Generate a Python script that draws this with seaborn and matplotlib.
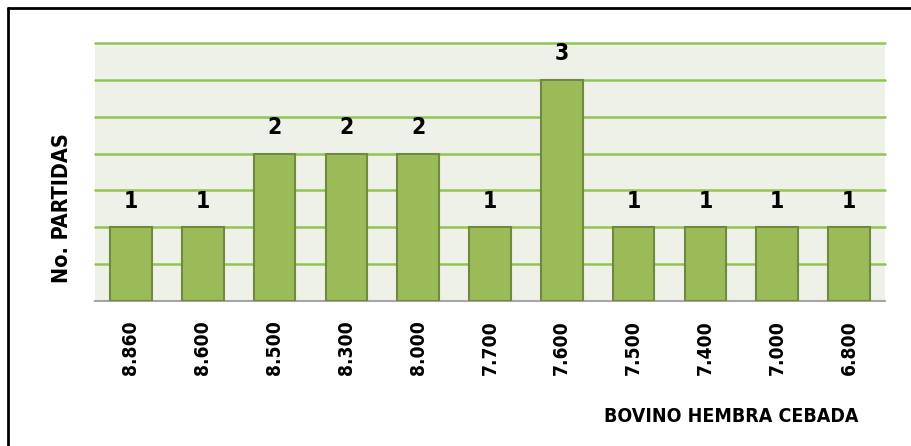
import matplotlib
matplotlib.use("Agg")
import matplotlib.pyplot as plt
import seaborn as sns
import pandas as pd
from matplotlib.lines import Line2D

categories = ["8.860", "8.600", "8.500", "8.300", "8.000", "7.700", "7.600",
              "7.500", "7.400", "7.000", "6.800"]
values = [1, 1, 2, 2, 2, 1, 3, 1, 1, 1, 1]
y_label = "No. PARTIDAS"
x_label = "BOVINO HEMBRA CEBADA"

sns.set_theme(style="white")
FONT = ["DejaVu Sans", "Liberation Sans"]
plt.rcParams['font.family'] = FONT
plt.rcParams['font.stretch'] = "condensed"
plt.rcParams['text.color'] = "black"

df = pd.DataFrame({"cat": categories, "val": values})

fig = plt.figure(figsize=(9.12, 4.46), dpi=100)
ax = fig.add_axes([95/912, 1-301/446, (885-95)/912, (301-43)/446])
ax.set_facecolor("#EEF1E8")

sns.barplot(data=df, x="cat", y="val", ax=ax, color="#9BBB59",
            edgecolor="#6F8A3C", linewidth=1.5, width=0.58, saturation=1, zorder=3)

ax.set_ylim(0, 3.5)
ax.set_yticks([0.5*i for i in range(1, 8)])
ax.yaxis.grid(True, color="#92C353", linewidth=1.8, zorder=0)
for gl in ax.get_ygridlines():
    gl.set_clip_on(False)
ax.set_axisbelow(True)
ax.tick_params(axis="y", left=False, labelleft=False)
ax.tick_params(axis="x", bottom=False, length=0, pad=14)
for lab in ax.get_xticklabels():
    lab.set_rotation(90)
    lab.set_fontsize(13.8)
    lab.set_fontweight("bold")
    lab.set_fontstretch("condensed")
    lab.set_color("black")
    lab.set_va("top")

for s in ["top", "right", "left"]:
    ax.spines[s].set_visible(False)
ax.spines["bottom"].set_color("#A6A6A6")
ax.spines["bottom"].set_linewidth(1.5)

for i, v in enumerate(values):
    ax.text(i, v + 0.2, str(v), ha="center", va="bottom", fontsize=16.5,
            fontweight="bold", fontstretch="condensed", color="black")

ax.set_xlabel("")
ax.set_ylabel("")
fig.text(62/912, 1-208/446, y_label, rotation=90, ha="center", va="center",
         fontsize=15.5, fontweight="bold", fontstretch="condensed", color="black")
fig.text(731/912, 1-416/446, x_label, ha="center", va="center",
         fontsize=14, fontweight="bold", fontstretch="condensed", color="black")

# figure frame (top and left visible)
fig.add_artist(Line2D([8/912, 8/912], [0, 1-8/446], transform=fig.transFigure,
                      color="black", linewidth=2))
fig.add_artist(Line2D([8/912, 1], [1-8/446, 1-8/446], transform=fig.transFigure,
                      color="black", linewidth=2))

fig.savefig("out.png", dpi=100, facecolor="white")
